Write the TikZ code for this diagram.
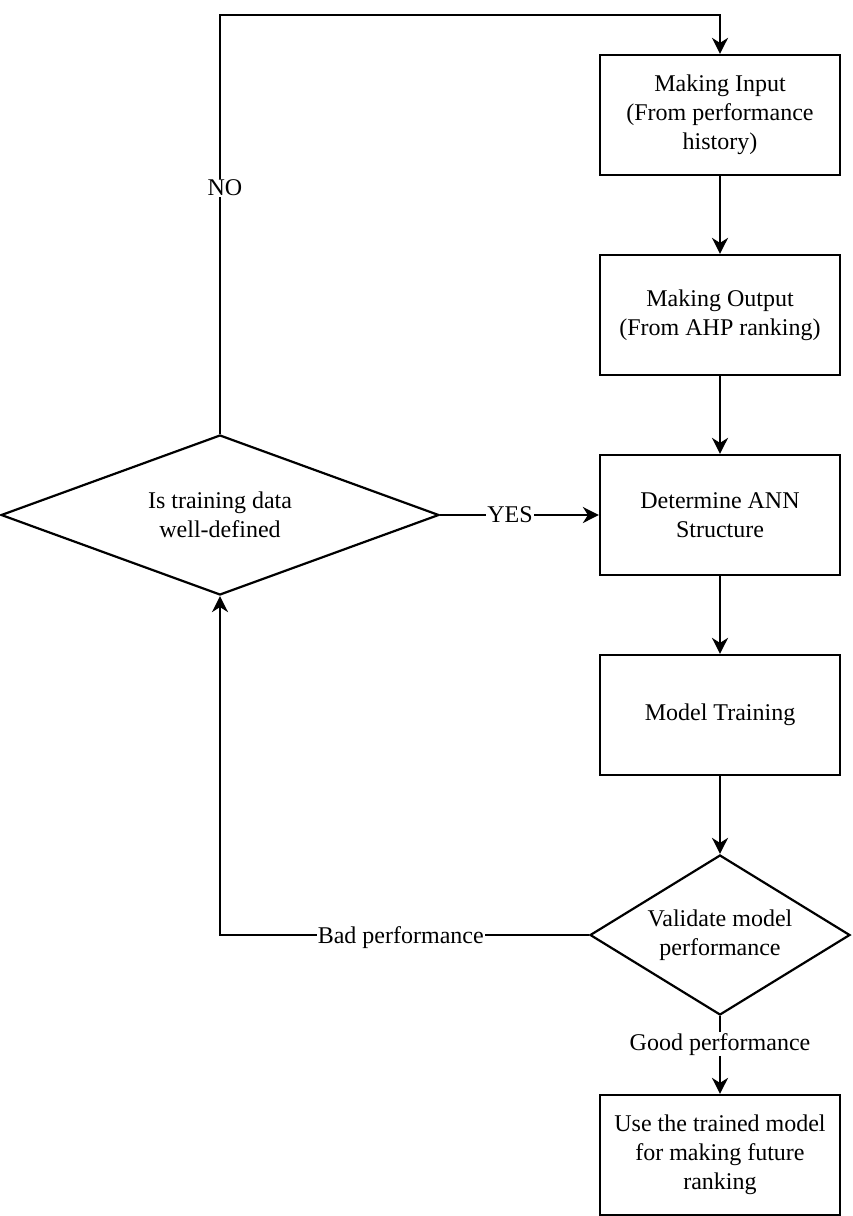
\documentclass[tikz,border=0pt]{standalone}
\usepackage{fontspec}
\setmainfont{Liberation Serif}
\usetikzlibrary{shapes.geometric, arrows.meta, calc}

\begin{document}
\begin{tikzpicture}[x=1pt,y=-1pt,
  every node/.style={font=\fontsize{24}{28.8}\selectfont},
  proc/.style={draw, line width=2.2pt, minimum width=240pt, minimum height=120pt, align=center, inner sep=0pt},
  decision/.style={draw, diamond, line width=2.2pt, align=center, inner sep=0pt},
  conn/.style={line width=2.2pt, -{Stealth[length=16pt,width=16pt,inset=5pt]}},
  lbl/.style={fill=white, inner sep=1pt}]
\useasboundingbox (0,0) rectangle (852,1216);

\node[proc] (input) at (720,115) {Making Input\\(From performance\\history)};
\node[proc] (output) at (720,315) {Making Output\\(From AHP ranking)};
\node[proc] (ann) at (720,515) {Determine ANN\\Structure};
\node[proc] (train) at (720,715) {Model Training};
\node[decision, aspect=1.625, minimum width=260pt, minimum height=160pt] (valid) at (720,935) {Validate model\\performance};
\node[proc] (use) at (720,1155) {Use the trained model\\for making future\\ranking};
\node[decision, aspect=2.75, minimum width=438pt, minimum height=160pt] (wd) at (220,515) {Is training data\\well-defined};

\coordinate (topleft) at (220,15);

\draw[conn] (input) -- (output);
\draw[conn] (output) -- (ann);
\draw[conn] (ann) -- (train);
\draw[conn] (train) -- (valid);
\draw[conn] (valid) -- node[lbl, pos=0.36] {Good performance} (use);
\draw[conn] (wd) -- node[lbl, pos=0.44] {YES} (ann);
\draw[conn] (wd.north) -- node[lbl, pos=0.588, xshift=5pt] {NO} (topleft) -| (input.north);
\draw[conn] (valid.west) -- node[lbl, pos=0.51, yshift=-3pt] {Bad performance} (valid.west -| wd.south) -- (wd.south);
\end{tikzpicture}
\end{document}
